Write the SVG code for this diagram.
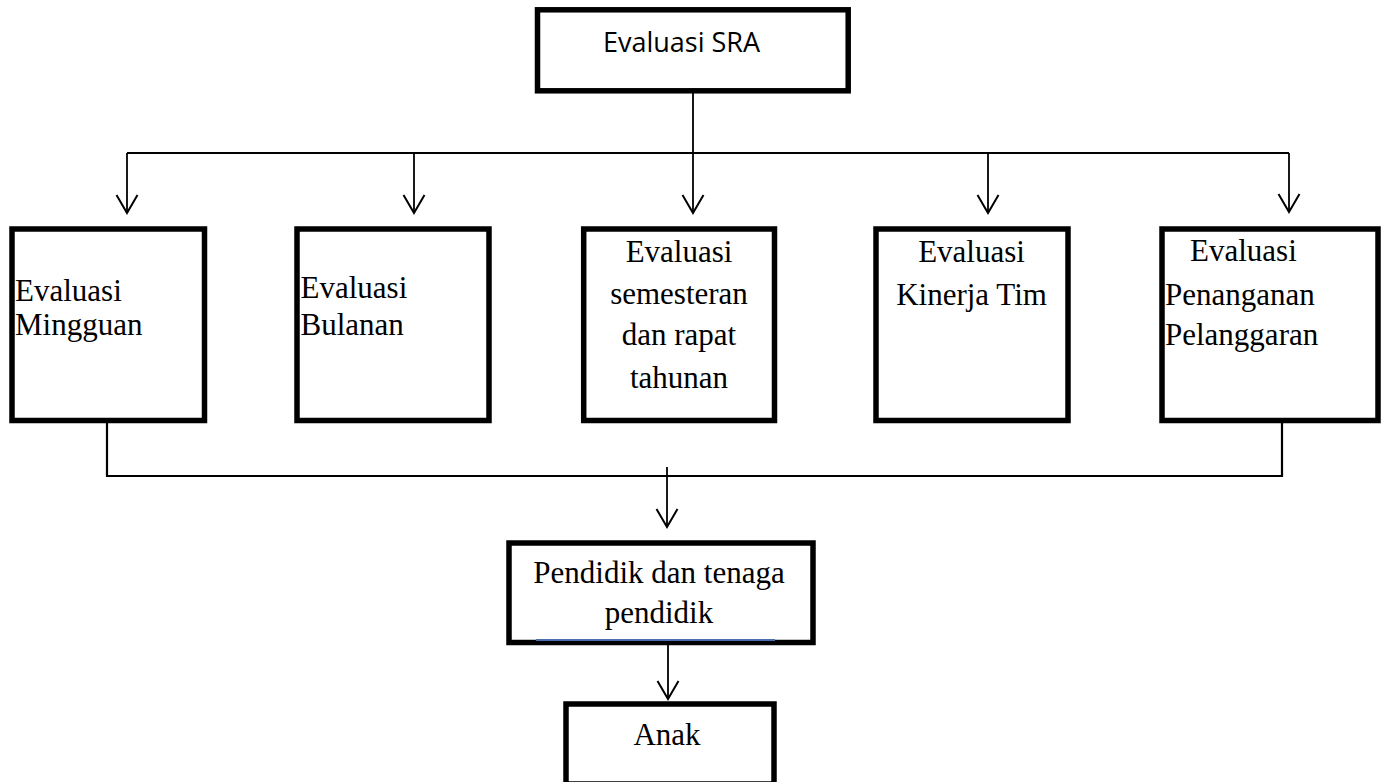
<svg xmlns="http://www.w3.org/2000/svg" width="1388" height="782" viewBox="0 0 1388 782">
<style>
.box{fill:#fff;stroke:#000;stroke-width:5.5}
.t{font-family:"Liberation Serif","Times New Roman",serif;font-size:31px;fill:#000}
.c{text-anchor:middle}
.s{font-family:"Open Sans","Liberation Sans",sans-serif;font-size:27px;fill:#000}
.ln{fill:none;stroke:#000;stroke-width:1.8}
</style>
<defs>
<marker id="arr" viewBox="-2 -12 22 24" refX="18" refY="0" markerWidth="22" markerHeight="24" markerUnits="userSpaceOnUse" orient="auto">
<path d="M0,-10.5 L18,0 L0,10.5" fill="none" stroke="#000" stroke-width="2"/>
</marker>
</defs>
<rect width="1388" height="782" fill="#fff"/>
<g id="connectors">
<path class="ln" d="M693,91 V153 M127,153 H1289"/>
<path class="ln" d="M127,153 V213" marker-end="url(#arr)"/>
<path class="ln" d="M414,153 V213" marker-end="url(#arr)"/>
<path class="ln" d="M693,153 V213" marker-end="url(#arr)"/>
<path class="ln" d="M988,153 V213" marker-end="url(#arr)"/>
<path class="ln" d="M1289,153 V212" marker-end="url(#arr)"/>
<path class="ln" d="M107,423 V476 H1282 V423" style="stroke-width:2.2"/>
<path class="ln" d="M667,467 V527" marker-end="url(#arr)"/>
<path class="ln" d="M668,645 V699" marker-end="url(#arr)"/>
</g>
<g id="node-sra">
<rect class="box" x="537.5" y="9.8" width="310.7" height="81"/>
<text class="s" x="603" y="52">Evaluasi SRA</text>
</g>
<g id="node-mingguan">
<rect class="box" x="12" y="229" width="192.5" height="191.5"/>
<text class="t" x="15" y="301">Evaluasi</text>
<text class="t" x="15" y="335">Mingguan</text>
</g>
<g id="node-bulanan">
<rect class="box" x="297" y="229" width="192" height="191.5"/>
<text class="t" x="300.5" y="298">Evaluasi</text>
<text class="t" x="300.5" y="335">Bulanan</text>
</g>
<g id="node-semesteran">
<rect class="box" x="583.7" y="229" width="190.8" height="191.5"/>
<text class="t c" x="679" y="262">Evaluasi</text>
<text class="t c" x="679" y="304">semesteran</text>
<text class="t c" x="679" y="345">dan rapat</text>
<text class="t c" x="679" y="388">tahunan</text>
</g>
<g id="node-kinerja">
<rect class="box" x="876" y="229" width="192" height="191.5"/>
<text class="t c" x="971.5" y="262">Evaluasi</text>
<text class="t c" x="971.5" y="305">Kinerja Tim</text>
</g>
<g id="node-pelanggaran">
<rect class="box" x="1162" y="229" width="216" height="191.5"/>
<text class="t" x="1190" y="261">Evaluasi</text>
<text class="t" x="1165" y="305">Penanganan</text>
<text class="t" x="1165" y="345">Pelanggaran</text>
</g>
<g id="node-pendidik">
<rect class="box" x="509" y="543" width="304" height="99.5"/>
<line x1="536" y1="640" x2="775" y2="640" stroke="#4a6fb0" stroke-width="2"/>
<text class="t c" x="659" y="583">Pendidik dan tenaga</text>
<text class="t c" x="659" y="623">pendidik</text>
</g>
<g id="node-anak">
<rect class="box" x="566" y="704" width="208" height="80"/>
<text class="t c" x="667" y="745">Anak</text>
</g>
</svg>
